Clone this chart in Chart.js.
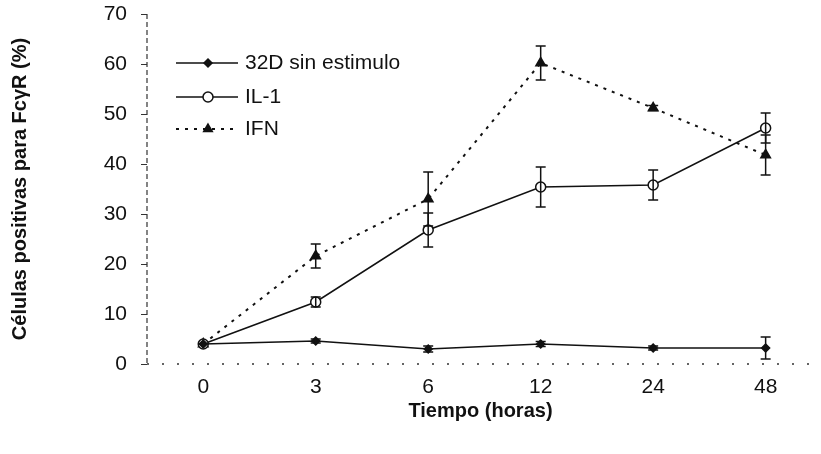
<!DOCTYPE html>
<html>
<head>
<meta charset="utf-8">
<script src="https://cdn.jsdelivr.net/npm/chart.js@4"></script>
<style>
  html, body { margin: 0; padding: 0; background: #fff; }
  #wrap { width: 821px; height: 454px; }
</style>
</head>
<body>
<div id="wrap"><canvas id="chart" width="821" height="454"></canvas></div>
<script>
const hours = ['0', '3', '6', '12', '24', '48'];

const ctrlValues = [4, 4.6, 3, 4, 3.2, 3.2];
const ctrlErrors = [0, 0.4, 0.6, 0.5, 0.4, 2.2];

const il1Values = [4, 12.4, 26.8, 35.4, 35.8, 47.2];
const il1Errors = [0, 1, 3.4, 4, 3, 3];

const ifnValues = [4, 21.6, 33, 60.2, 51.2, 41.8];
const ifnErrors = [0, 2.4, 5.4, 3.4, 0.5, 4];

const yTicks = [0, 10, 20, 30, 40, 50, 60, 70];

const legendNames = ['32D sin estimulo', 'IL-1', 'IFN'];

const FONT = '"Liberation Sans", Arial, sans-serif';

function toPoints(values) {
    return values.map((v, i) => ({ x: i, y: v }));
}

// dashed axis lines like the scanned original
const axisLines = {
    id: 'axisLines',
    beforeDatasetsDraw(chart) {
        const ctx = chart.ctx;
        const a = chart.chartArea;
        ctx.save();
        ctx.strokeStyle = '#333';
        ctx.lineWidth = 1.2;
        ctx.setLineDash([5, 3]);
        ctx.beginPath();
        ctx.moveTo(a.left, a.top); ctx.lineTo(a.left, a.bottom);
        ctx.stroke();
        ctx.setLineDash([2, 13]);
        ctx.lineWidth = 1.5;
        ctx.beginPath();
        ctx.moveTo(a.left, a.bottom); ctx.lineTo(a.right, a.bottom);
        ctx.stroke();
        ctx.restore();
    }
};

// error bars drawn through the chart scales
const errorBars = {
    id: 'errorBars',
    afterDatasetsDraw(chart) {
        const ctx = chart.ctx;
        const xs = chart.scales.x;
        const ys = chart.scales.y;
        ctx.save();
        ctx.strokeStyle = '#111';
        ctx.lineWidth = 1.5;
        chart.data.datasets.forEach(ds => {
            ds.errors.forEach((e, i) => {
                if (!e) return;
                const x = xs.getPixelForValue(i);
                const top = ys.getPixelForValue(ds.data[i].y + e);
                const bot = ys.getPixelForValue(ds.data[i].y - e);
                ctx.beginPath();
                ctx.moveTo(x, top); ctx.lineTo(x, bot);
                ctx.moveTo(x - 5, top); ctx.lineTo(x + 5, top);
                ctx.moveTo(x - 5, bot); ctx.lineTo(x + 5, bot);
                ctx.stroke();
            });
        });
        ctx.restore();
    }
};

// legend drawn on the canvas, upper left inside the plot
const plotLegend = {
    id: 'plotLegend',
    afterDraw(chart) {
        const ctx = chart.ctx;
        ctx.save();
        ctx.textBaseline = 'middle';
        const rows = [63, 97, 129];
        chart.data.datasets.forEach((ds, k) => {
            const y = rows[k];
            ctx.strokeStyle = '#111';
            ctx.lineWidth = ds.borderWidth;
            ctx.setLineDash(ds.borderDash || []);
            ctx.beginPath();
            ctx.moveTo(176, y); ctx.lineTo(238, y);
            ctx.stroke();
            ctx.setLineDash([]);
            ctx.fillStyle = ds.pointBackgroundColor;
            ctx.strokeStyle = '#111';
            ctx.lineWidth = 1.5;
            Chart.helpers.drawPoint(ctx, {
                pointStyle: ds.pointStyle,
                radius: ds.pointRadius,
                borderWidth: 1.5
            }, 208, y);
            ctx.fillStyle = '#111';
            ctx.font = '21px ' + FONT;
            ctx.fillText(legendNames[k], 245, y);
        });
        ctx.restore();
    }
};

new Chart(document.getElementById('chart'), {
    type: 'line',
    data: {
        datasets: [
            {
                label: legendNames[0],
                data: toPoints(ctrlValues),
                errors: ctrlErrors,
                borderColor: '#111',
                borderWidth: 1.5,
                pointStyle: 'rectRot',
                pointRadius: 4,
                pointBackgroundColor: '#111',
                pointBorderColor: '#111'
            },
            {
                label: legendNames[1],
                data: toPoints(il1Values),
                errors: il1Errors,
                borderColor: '#111',
                borderWidth: 1.5,
                pointStyle: 'circle',
                pointRadius: 5,
                pointBackgroundColor: '#fff',
                pointBorderColor: '#111',
                pointBorderWidth: 1.5
            },
            {
                label: legendNames[2],
                data: toPoints(ifnValues),
                errors: ifnErrors,
                borderColor: '#111',
                borderWidth: 2,
                borderDash: [3, 6],
                pointStyle: 'triangle',
                pointRadius: 5,
                pointBackgroundColor: '#111',
                pointBorderColor: '#111'
            }
        ]
    },
    options: {
        responsive: false,
        animation: false,
        layout: { padding: 0 },
        plugins: {
            legend: { display: false },
            tooltip: { enabled: false }
        },
        scales: {
            x: {
                type: 'linear',
                min: -0.5,
                max: 5.43,
                afterFit(scale) { scale.height = 90; },
                afterBuildTicks(scale) {
                    scale.ticks = hours.map((h, i) => ({ value: i }));
                },
                ticks: {
                    callback: (v) => hours[v],
                    color: '#111',
                    padding: 3,
                    font: { family: FONT, size: 21 }
                },
                grid: { display: false },
                border: { display: false },
                title: {
                    display: true,
                    text: 'Tiempo (horas)',
                    color: '#111',
                    padding: { top: 4, bottom: 31 },
                    font: { family: FONT, size: 20, weight: 'bold' }
                }
            },
            y: {
                min: 0,
                max: 70,
                afterFit(scale) {
                    scale.width = 147;
                    scale.paddingTop = 14;
                    scale.paddingBottom = 0;
                },
                afterBuildTicks(scale) {
                    scale.ticks = yTicks.map(v => ({ value: v }));
                },
                ticks: {
                    color: '#111',
                    padding: 14,
                    font: { family: FONT, size: 21 }
                },
                grid: { drawOnChartArea: false, tickLength: 6, color: '#333' },
                border: { display: false },
                title: {
                    display: true,
                    text: 'Células positivas para FcγR (%)',
                    color: '#111',
                    padding: { top: 8, bottom: 10 },
                    font: { family: FONT, size: 20, weight: 'bold' }
                }
            }
        }
    },
    plugins: [axisLines, errorBars, plotLegend]
});
</script>
</body>
</html>
